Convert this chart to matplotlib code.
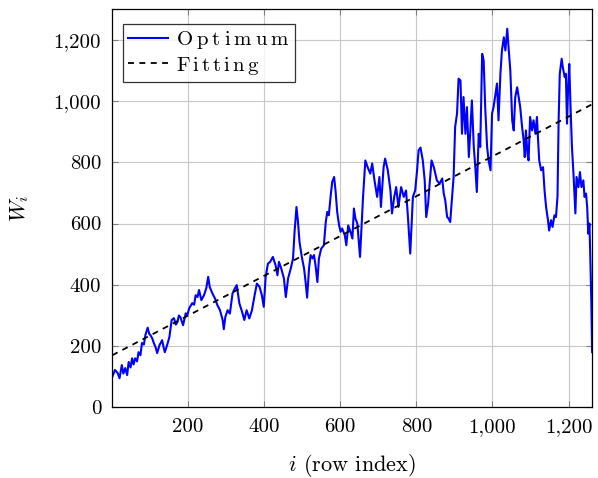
import numpy as np
import matplotlib
matplotlib.use("Agg")
from matplotlib import pyplot as plt
from matplotlib.ticker import FuncFormatter

# values
row_idx = [1, 8, 15, 20, 26, 30, 35, 40, 44, 49, 53, 57, 61, 66, 70, 75, 79, 84, 88, 94,
           98, 101, 106, 110, 115, 119, 125, 132, 136, 139, 145, 151, 157, 163, 168, 172,
           176, 180, 187, 194, 198, 203, 211, 216, 220, 225, 229, 235, 242, 248, 253, 257,
           264, 271, 277, 284, 291, 294, 298, 304, 310, 317, 323, 328, 335, 342, 348, 354,
           361, 368, 375, 381, 388, 394, 399, 404, 410, 416, 423, 430, 435, 439, 445, 452,
           457, 463, 470, 476, 480, 485, 489, 493, 499, 505, 509, 513, 518, 522, 527, 531,
           535, 540, 544, 550, 557, 562, 566, 570, 575, 579, 584, 588, 592, 597, 601, 605,
           612, 616, 621, 627, 632, 636, 640, 645, 652, 660, 666, 672, 679, 684, 690, 697,
           703, 707, 714, 718, 725, 732, 736, 742, 747, 753, 760, 767, 773, 778, 784, 791,
           797, 802, 806, 811, 817, 822, 826, 831, 835, 840, 846, 854, 861, 868, 872, 876,
           881, 885, 889, 894, 898, 902, 907, 911, 916, 920, 924, 929, 933, 938, 942, 946,
           951, 955, 959, 964, 968, 973, 977, 981, 986, 990, 995, 999, 1003, 1008, 1012,
           1016, 1021, 1025, 1030, 1034, 1039, 1043, 1047, 1052, 1056, 1060, 1065, 1069,
           1073, 1078, 1082, 1085, 1088, 1092, 1095, 1099, 1104, 1108, 1113, 1117, 1120,
           1123, 1128, 1133, 1137, 1141, 1146, 1149, 1154, 1158, 1163, 1167, 1171, 1174,
           1177, 1182, 1185, 1190, 1193, 1196, 1199, 1202, 1205, 1209, 1213, 1218, 1221,
           1226, 1230, 1234, 1239, 1242, 1246, 1249, 1252, 1255, 1257, 1260, 1262]
optimum = [100, 122, 112, 95, 138, 110, 128, 105, 148, 130, 160, 140, 160, 150, 180, 170,
           210, 205, 236, 260, 240, 236, 225, 210, 195, 177, 203, 219, 195, 180, 203, 229,
           285, 291, 270, 278, 300, 294, 268, 307, 300, 323, 340, 335, 366, 360, 383, 350,
           366, 389, 426, 393, 372, 355, 334, 317, 285, 255, 295, 317, 306, 372, 388, 399,
           339, 312, 285, 317, 290, 317, 366, 404, 393, 366, 328, 426, 469, 475, 491, 464,
           431, 475, 453, 421, 360, 421, 453, 486, 573, 654, 605, 540, 491, 453, 409, 358,
           453, 497, 486, 497, 464, 409, 486, 518, 529, 605, 638, 627, 692, 736, 752, 703,
           638, 594, 573, 584, 562, 529, 594, 573, 551, 649, 616, 600, 491, 687, 806, 784,
           763, 796, 741, 687, 752, 654, 784, 812, 774, 708, 633, 687, 719, 654, 719, 687,
           708, 621, 502, 687, 708, 774, 839, 848, 806, 741, 621, 665, 730, 806, 784, 741,
           730, 747, 698, 676, 621, 616, 605, 687, 752, 915, 959, 1073, 1067, 893, 1013,
           893, 980, 817, 904, 1002, 850, 784, 703, 893, 850, 1154, 1132, 980, 850, 806,
           774, 959, 980, 1024, 1057, 937, 1089, 1165, 1208, 1165, 1236, 1165, 1100, 937,
           904, 1013, 1045, 1013, 980, 915, 872, 817, 904, 828, 806, 948, 904, 937, 893,
           948, 872, 806, 774, 784, 708, 654, 611, 577, 611, 589, 627, 621, 687, 937, 1089,
           1138, 1110, 1078, 1089, 926, 1045, 1121, 991, 850, 763, 633, 752, 719, 768, 719,
           741, 687, 698, 654, 567, 600, 502, 339, 180]

fit_x = [1, 1263]
fit_y = [170, 990]

x_ticks = [200, 400, 600, 800, 1000, 1200]
y_ticks = [0, 200, 400, 600, 800, 1000, 1200]

plt.rcParams["font.family"] = "cmr10"
plt.rcParams["mathtext.fontset"] = "cm"
plt.rcParams["axes.formatter.use_mathtext"] = True

fig = plt.figure(figsize=(5.98, 4.78), dpi=100)
ax = fig.add_axes([0.1878, 0.1479, 0.8030, 0.8330])

# legend text in the reference is letter-spaced
ax.plot(row_idx, optimum, color="#0000ff", lw=1.5,
        label=r"$\mathrm{O\:p\:t\:i\:m\:u\:m}$")
ax.plot(fit_x, fit_y, color="black", lw=1.3, linestyle=(0, (3.3, 3)),
        label=r"$\mathrm{F\,i\,t\,t\,i\,n\,g}$")

ax.set_xlim(1, 1263)
ax.set_ylim(0, 1300)
ax.set_xticks(x_ticks)
ax.set_yticks(y_ticks)
fmt = FuncFormatter(lambda v, p: f"{int(v):,}")
ax.xaxis.set_major_formatter(fmt)
ax.yaxis.set_major_formatter(fmt)
ax.grid(True, color="#c8c8c8", lw=0.8)
ax.set_axisbelow(True)
ax.tick_params(direction="in", length=4, width=0.8, color="#808080",
               top=True, right=True, labelsize=15, pad=8)
for s in ax.spines.values():
    s.set_linewidth(0.9)

ax.set_xlabel("$i$ (row index)", fontsize=16, labelpad=11)
ax.set_ylabel("$W_i$", fontsize=16, labelpad=16)

leg = ax.legend(loc="upper left", bbox_to_anchor=(0.022, 0.962), borderaxespad=0,
                fontsize=15, frameon=True, fancybox=False, edgecolor="black",
                handlelength=1.9, handletextpad=0.4, borderpad=0.25, labelspacing=0.15)
leg.get_frame().set_linewidth(0.9)

fig.savefig("out.png", dpi=100)
